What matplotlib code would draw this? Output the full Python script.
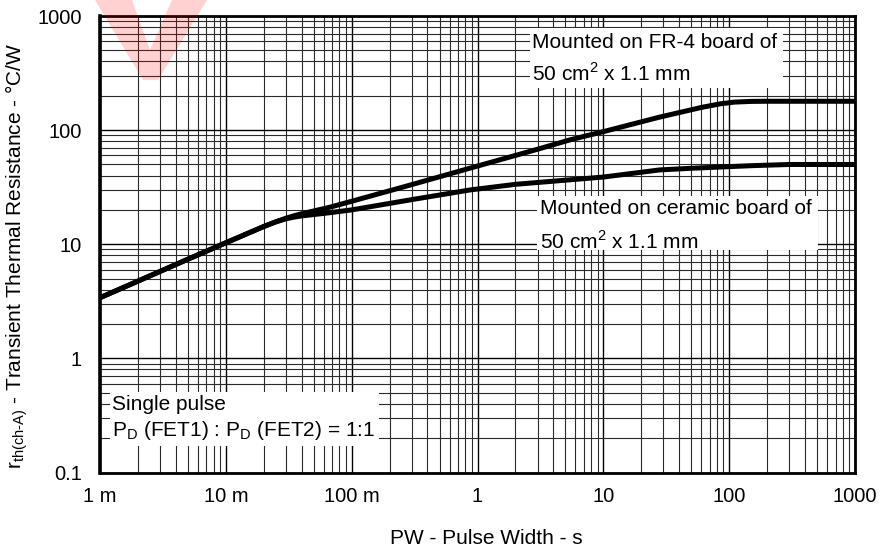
import matplotlib
matplotlib.use("Agg")
import matplotlib.pyplot as plt
from matplotlib.patches import Polygon, Rectangle
from matplotlib.ticker import LogLocator, FixedLocator, NullFormatter

plt.rcParams['font.family'] = ['Liberation Sans', 'DejaVu Sans']
plt.rcParams['mathtext.fontset'] = 'custom'
plt.rcParams['mathtext.rm'] = 'Liberation Sans'

# pulse width (s) vs transient thermal resistance (C/W)
fr4_x = [1e-3, 2e-3, 5e-3, 1e-2, 2e-2, 2.5e-2, 3e-2, 3.5e-2, 4e-2, 6.7e-2, 0.1, 0.3, 0.87, 3, 5.4,
         10, 28, 60, 85, 110, 150, 200, 1000]
fr4_y = [3.4, 4.75, 7.4, 10.3, 14.3, 15.75, 16.9, 17.8, 18.5, 21.1, 23.8, 33.3, 46.4, 68, 82,
         97, 130, 158, 170, 176, 178.5, 179, 179]

ceramic_x = [1e-3, 2e-3, 5e-3, 1e-2, 2e-2, 2.5e-2, 3e-2, 3.5e-2, 4e-2, 6.7e-2, 0.1, 0.3, 0.87, 2,
             6.5, 10, 28, 50, 85, 150, 300, 1000]
ceramic_y = [3.4, 4.75, 7.4, 10.3, 14.3, 15.7, 16.7, 17.3, 17.7, 18.9, 20.0, 24.6, 29.9, 33.5,
             37.3, 38.8, 44.8, 46.3, 47.5, 48.8, 50, 50]

x_ticks = [1e-3, 1e-2, 1e-1, 1, 10, 100, 1000]
x_tick_labels = ['1 m', '10 m', '100 m', '1', '10', '100', '1000']
y_ticks = [0.1, 1, 10, 100, 1000]
y_tick_labels = ['0.1', '1', '10', '100', '1000']

W, H = 882, 551
fig = plt.figure(figsize=(W / 100, H / 100), dpi=100)
fig.subplots_adjust(left=100 / W, right=855 / W, top=1 - 16 / H, bottom=1 - 472.5 / H)
ax = fig.add_subplot(111)

ax.set_xscale('log')
ax.set_yscale('log')
ax.set_xlim(1e-3, 1000)
ax.set_ylim(0.1, 1000)

ax.xaxis.set_major_locator(FixedLocator(x_ticks))
ax.set_xticklabels(x_tick_labels)
ax.yaxis.set_major_locator(FixedLocator(y_ticks))
ax.set_yticklabels(y_tick_labels)
ax.xaxis.set_minor_locator(LogLocator(base=10, subs=range(2, 10), numticks=20))
ax.yaxis.set_minor_locator(LogLocator(base=10, subs=range(2, 10), numticks=20))
ax.xaxis.set_minor_formatter(NullFormatter())
ax.yaxis.set_minor_formatter(NullFormatter())
ax.tick_params(which='both', length=0, labelsize=14.5)
ax.tick_params(axis='y', pad=13)
ax.tick_params(axis='x', pad=10.5)

ax.grid(which='major', color='black', lw=1.0)
ax.grid(which='minor', color='#2a2a2a', lw=0.8)
ax.set_axisbelow(True)

for s in ax.spines.values():
    s.set_linewidth(2)
ax.spines['left'].set_linewidth(2.6)

ax.plot(fr4_x, fr4_y, color='black', lw=3.6, solid_joinstyle='round', zorder=3)
ax.plot(ceramic_x, ceramic_y, color='black', lw=3.6, solid_joinstyle='round', zorder=3)


def fx(px):
    return (px - 100) / 755


def fy(py):
    return (472.5 - py) / 456.5


def note_box(x0, x1, y0, y1):
    ax.add_patch(Rectangle((fx(x0), fy(y1)), fx(x1) - fx(x0), fy(y0) - fy(y1),
                           transform=ax.transAxes, facecolor='white',
                           edgecolor='none', zorder=4))


# annotations
note_box(530, 783, 28, 88)
ax.text(fx(532), fy(43), 'Mounted on FR-4 board of', transform=ax.transAxes,
        fontsize=15, va='center', ha='left', zorder=5)
ax.text(fx(532), fy(73), '50 cm$^{\\mathregular{2}}$ x 1.1 mm', transform=ax.transAxes,
        fontsize=15, va='center', ha='left', zorder=5)

note_box(537, 818, 196, 250)
ax.text(fx(540), fy(208), 'Mounted on ceramic board of', transform=ax.transAxes,
        fontsize=15, va='center', ha='left', zorder=5)
ax.text(fx(540), fy(242), '50 cm$^{\\mathregular{2}}$ x 1.1 mm', transform=ax.transAxes,
        fontsize=15, va='center', ha='left', zorder=5)

note_box(110, 379, 392, 446)
ax.text(fx(112), fy(405), 'Single pulse', transform=ax.transAxes,
        fontsize=15, va='center', ha='left', zorder=5)
ax.text(fx(112), fy(430), 'P$_{\\mathregular{D}}$ (FET1) : P$_{\\mathregular{D}}$ (FET2) = 1:1',
        transform=ax.transAxes, fontsize=15, va='center', ha='left', zorder=5)

# axis titles
fig.text(486 / W, 1 - 538 / H, 'PW - Pulse Width - s', fontsize=15, ha='center', va='center')
fig.text(17 / W, 1 - 256 / H,
         'r$_{\\mathregular{th(ch\u2010A)}}$ - Transient Thermal Resistance - \u00b0C/W',
         fontsize=15, rotation=90, ha='center', va='center')

# faint red watermark fragment at the top left
wm = [(95, 0), (132, 0), (150, 50), (172, 0), (207, 0), (158, 80), (143, 80)]
fig.patches.append(Polygon([(x / W, 1 - y / H) for x, y in wm], closed=True,
                           transform=fig.transFigure, facecolor='red',
                           edgecolor='none', alpha=0.18, zorder=10))

fig.savefig('out.png', dpi=100)
